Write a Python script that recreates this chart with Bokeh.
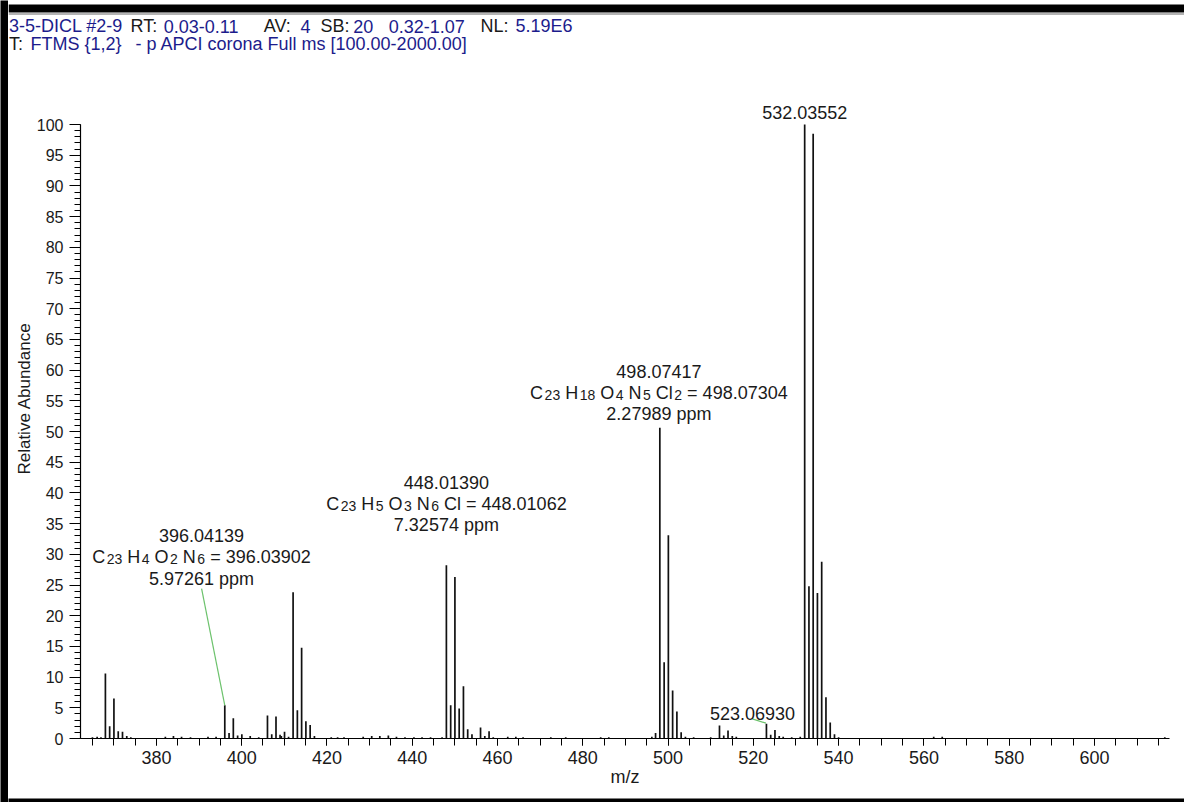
from bokeh.plotting import figure
from bokeh.models import (Range1d, FixedTicker, SingleIntervalTicker, Label, ColumnDataSource)
from bokeh.layouts import row, column
from bokeh.embed import file_html
from bokeh.resources import INLINE

# ---------------- data ----------------
mz = [365.0, 366.1, 367.0, 368.04, 369.04, 370.04, 371.05, 372.05, 373.05, 374.0,
      382.1, 384.0, 385.9, 388.0, 392.1, 394.0,
      396.04, 397.04, 398.04, 399.05, 400.04, 402.0, 404.0,
      406.05, 407.05, 408.05, 409.0, 409.3, 410.05, 411.0,
      412.06, 413.06, 414.06, 415.06, 416.06, 417.06,
      421.0, 422.5, 424.0, 428.5, 430.5, 432.4, 434.4, 436.3, 438.3, 440.4, 442.3, 444.3, 447.0,
      448.01, 449.02, 450.01, 451.01, 452.01, 453.01, 454.01, 456.02, 457.02, 458.02, 459.0,
      462.4, 464.3, 466.0, 472.5, 476.0, 484.2, 486.1,
      496.2, 497.07, 498.07, 499.08, 500.07, 501.07, 502.07, 503.07, 504.07, 506.0, 510.0,
      512.06, 513.06, 514.06, 515.06, 516.0,
      523.07, 524.07, 525.07, 526.07, 527.0, 529.0, 531.0,
      532.04, 533.04, 534.03, 535.03, 536.03, 537.03, 538.03, 539.03, 540.0,
      553.0, 562.3, 564.3, 616.5]
abundance = [0.2, 0.3, 0.2, 10.6, 2.0, 6.5, 1.2, 1.1, 0.4, 0.2,
             0.3, 0.4, 0.3, 0.2, 0.3, 0.3,
             5.4, 0.9, 3.3, 0.5, 0.7, 0.4, 0.2,
             3.75, 0.7, 3.6, 0.6, 0.4, 1.1, 0.3,
             23.8, 4.6, 14.8, 2.8, 2.2, 0.4,
             0.2, 0.2, 0.2, 0.3, 0.4, 0.4, 0.5, 0.3, 0.2, 0.2, 0.2, 0.2, 0.2,
             28.2, 5.4, 26.3, 4.9, 8.5, 1.5, 0.7, 1.8, 0.4, 1.2, 0.2,
             0.3, 0.3, 0.2, 0.2, 0.2, 0.2, 0.2,
             0.3, 0.9, 50.6, 12.4, 33.1, 7.8, 4.4, 1.0, 0.3, 0.2, 0.2,
             2.1, 0.5, 1.3, 0.4, 0.3,
             2.4, 0.6, 1.4, 0.4, 0.3, 0.2, 0.3,
             100.0, 24.8, 98.5, 23.7, 28.8, 6.7, 2.6, 0.7, 0.2,
             0.1, 0.3, 0.3, 0.2]

x_ticks = [380, 400, 420, 440, 460, 480, 500, 520, 540, 560, 580, 600]
x_minor = list(range(365, 616, 5))

header_line1 = [("3-5-DICL #2-9", "blue"), ("RT:", "black"), ("0.03-0.11", "blue"),
                ("AV:", "black"), ("4", "blue"), ("SB:", "black"), ("20", "blue"),
                ("0.32-1.07", "blue"), ("NL:", "black"), ("5.19E6", "blue")]
header_line2 = [("T:", "black"), ("FTMS {1,2}", "blue"),
                ("- p APCI corona Full ms [100.00-2000.00]", "blue")]

ann_mass = ["396.04139", "448.01390", "498.07417", "523.06930", "532.03552"]
ann_formula = [[("C", "23"), ("H", "4"), ("O", "2"), ("N", "6")],
               [("C", "23"), ("H", "5"), ("O", "3"), ("N", "6"), ("Cl", "")],
               [("C", "23"), ("H", "18"), ("O", "4"), ("N", "5"), ("Cl", "2")],
               None, None]
ann_theo = ["396.03902", "448.01062", "498.07304", None, None]
ann_ppm = ["5.97261 ppm", "7.32574 ppm", "2.27989 ppm", None, None]

# ---------------- layout / styling ----------------
FONT = "Liberation Sans"
BLUE = "#1c1c8c"
DARK = "#1a1a1a"
TOTAL_W, TOTAL_H = 1184, 802
LEFT_STRIP = 8
BOTTOM_STRIP = 8
HEAD_H = 58
MAIN_W = TOTAL_W - LEFT_STRIP
MAIN_H = TOTAL_H - HEAD_H - BOTTOM_STRIP
TXT_FIX = 7  # bokeh places "alphabetic" labels a few px low

X0, X1 = 362.2, 617.6
Y0 = 0
Y1 = 100 + (124 - HEAD_H) / 6.14


def black_strip(w, h):
    f = figure(width=w, height=h, x_axis_type=None, y_axis_type=None,
               output_backend="svg", toolbar_location=None, min_border=0)
    f.background_fill_color = "black"
    f.border_fill_color = "black"
    f.outline_line_color = None
    f.frame_align = False
    return f


# ---- header panel (coordinates = pixels of the page) ----
hd = figure(width=MAIN_W, height=HEAD_H, x_range=Range1d(LEFT_STRIP, TOTAL_W),
            y_range=Range1d(HEAD_H, 0), x_axis_type=None, y_axis_type=None,
            output_backend="svg", toolbar_location=None, min_border=0)
hd.frame_align = False
hd.outline_line_color = None
hd.background_fill_color = "white"
hd.border_fill_color = "white"
hd.quad(left=[LEFT_STRIP], right=[TOTAL_W], top=[4], bottom=[12], fill_color="black", line_color=None)
hd.segment(x0=[LEFT_STRIP], y0=[13.5], x1=[TOTAL_W], y1=[13.5], line_color="#9a9a9a", line_width=1.5)

line1_x = [8.5, 130, 163.3, 263.3, 300, 320, 352.7, 388.3, 480, 515]
line2_x = [8.5, 30, 135]
for items, xs, base in ((header_line1, line1_x, 31.5 - TXT_FIX + 1),
                        (header_line2, line2_x, 49.5 - TXT_FIX + 1)):
    for (txt, col), px in zip(items, xs):
        hd.add_layout(Label(x=px, y=base, text=txt, text_font=FONT, text_font_size="18px",
                            text_color=BLUE if col == "blue" else DARK,
                            text_align="left", text_baseline="alphabetic"))

# ---- main spectrum ----
p = figure(width=MAIN_W, height=MAIN_H, x_range=Range1d(X0, X1), y_range=Range1d(Y0, Y1),
           output_backend="svg", toolbar_location=None,
           min_border_left=72, min_border_right=15, min_border_top=0,
           min_border_bottom=MAIN_H - (738 - HEAD_H))
p.frame_align = False
p.background_fill_color = "white"
p.border_fill_color = "white"
p.outline_line_color = None
p.xgrid.visible = False
p.ygrid.visible = False

src = ColumnDataSource(dict(mz=mz, ab=abundance, z=[0] * len(mz)))
p.segment(x0="mz", y0="z", x1="mz", y1="ab", source=src, line_color="#111111", line_width=1.7)

xa = p.xaxis[0]
xa.ticker = FixedTicker(ticks=x_ticks, minor_ticks=x_minor)
xa.axis_label = "m/z"
ya = p.yaxis[0]
ya.ticker = SingleIntervalTicker(interval=5, num_minor_ticks=5)
ya.bounds = (0, 100)
ya.axis_label = "Relative Abundance"
for ax in (xa, ya):
    ax.axis_line_color = "black"
    ax.axis_line_width = 1.2
    ax.major_tick_line_color = "black"
    ax.minor_tick_line_color = "black"
    ax.major_tick_in = 0
    ax.minor_tick_in = 0
    ax.major_label_text_font = FONT
    ax.major_label_text_color = DARK
    ax.axis_label_text_font = FONT
    ax.axis_label_text_font_style = "normal"
    ax.axis_label_text_color = DARK
xa.major_tick_out = 7
xa.minor_tick_out = 7
xa.major_label_standoff = 5
xa.major_label_text_font_size = "18px"
xa.axis_label_text_font_size = "18px"
xa.axis_label_standoff = 0
ya.major_tick_out = 11
ya.minor_tick_out = 6
ya.major_label_standoff = 6
ya.major_label_text_font_size = "16px"
ya.axis_label_text_font_size = "17px"
ya.axis_label_standoff = 0

# Arial / Liberation Sans advance widths (em)
AW = {d: 0.556 for d in "0123456789"}
AW.update({".": 0.278, " ": 0.278, "=": 0.584, "-": 0.333, "C": 0.722, "H": 0.722,
           "O": 0.778, "N": 0.722, "l": 0.222, "p": 0.556, "m": 0.833})


def tw(s, size):
    return sum(AW.get(c, 0.556) for c in s) * size


def add_text(x, y, yoff, txt, size=18, xoff=0, align="center"):
    p.add_layout(Label(x=x, y=y, x_offset=xoff, y_offset=yoff + TXT_FIX, text=txt, text_font=FONT,
                       text_font_size=f"{size}px", text_color=DARK,
                       text_align=align, text_baseline="alphabetic"))


def add_formula(x, y, yoff, parts, tail):
    big, small = 18, 14
    pieces = []
    cur = 0.0
    for el, n in parts:
        pieces.append((el, big, cur, 0))
        cur += tw(el, big)
        if n:
            cur += 1.5
            pieces.append((n, small, cur, -2))
            cur += tw(n, small)
        cur += tw(" ", big)
    pieces.append(("= " + tail, big, cur, 0))
    cur += tw("= " + tail, big)
    start = -cur / 2
    for txt, size, off, dy in pieces:
        add_text(x, y, yoff + dy, txt, size=size, xoff=start + off, align="left")


# label block anchors (centre x, bottom baseline y in data units)
lab_x = [390.57, 448.01, 497.85, 519.8, 532.04]
lab_y = [24.84, 33.63, 51.71, 3.01, 100.0]
lab_dy = [0, 0, 0, 0, 5.5]
LS = 21.5
for i in range(len(ann_mass)):
    if ann_formula[i] is not None:
        add_text(lab_x[i], lab_y[i], lab_dy[i], ann_ppm[i])
        add_formula(lab_x[i], lab_y[i], lab_dy[i] + LS, ann_formula[i], ann_theo[i])
        add_text(lab_x[i], lab_y[i], lab_dy[i] + 2 * LS, ann_mass[i])
    else:
        add_text(lab_x[i], lab_y[i], lab_dy[i], ann_mass[i])

# green leader lines from label to peak
lead_x0 = [390.6, 519.76]
lead_y0 = [24.4, 3.2]
lead_x1 = [396.04, 522.95]
lead_y1 = [5.4, 2.5]
p.segment(x0=lead_x0, y0=lead_y0, x1=lead_x1, y1=lead_y1, line_color="#6cc26c", line_width=1.2)

layout = row(black_strip(LEFT_STRIP, TOTAL_H),
             column(hd, p, black_strip(MAIN_W, BOTTOM_STRIP)))

open("out.html", "w").write(file_html(layout, INLINE))
